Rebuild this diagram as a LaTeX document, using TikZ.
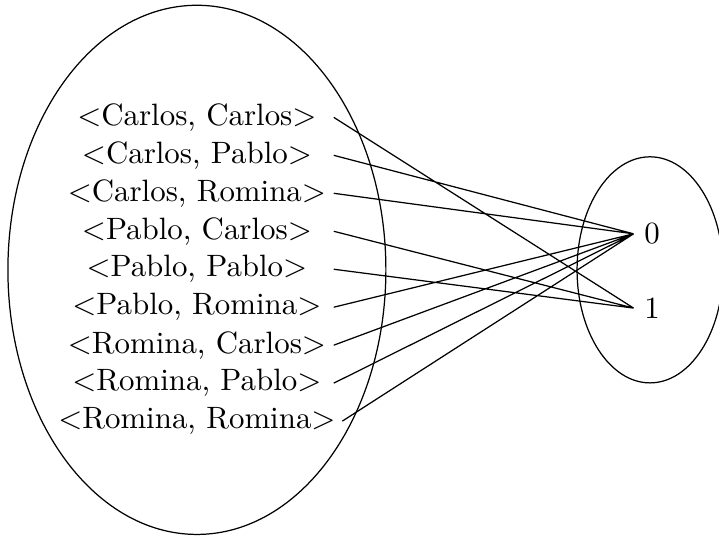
\documentclass[tikz,border=0pt]{standalone}
\usepackage{tikz}
\usetikzlibrary{positioning}
\tikzset{
node distance=0.432cm, % vertical distance between two pairs
pair/.style={minimum width=3.1cm, inner xsep=2pt}, % every pair gets the same width, so the lines start together
}

\begin{document}
\begin{tikzpicture}
        \useasboundingbox (0,0) rectangle (8.18,6.11);

        \draw (2.24,3.04) ellipse (2.15 and 3.01);
        \draw (7.395,3.04) ellipse (0.83 and 1.286);

        \node[pair] (cc) at (2.24,4.775) {<Carlos, Carlos>};
        \node[pair, below of=cc] (cp) {<Carlos, Pablo>};
        \node[pair, below of=cp] (cr) {<Carlos, Romina>};
        \node[pair, below of=cr] (pc) {<Pablo, Carlos>};
        \node[pair, below of=pc] (pp) {<Pablo, Pablo>};
        \node[pair, below of=pp] (pr) {<Pablo, Romina>};
        \node[pair, below of=pr] (rc) {<Romina, Carlos>};
        \node[pair, below of=rc] (rp) {<Romina, Pablo>};
        \node[pair, below of=rp] (rr) {<Romina, Romina>};

        \node (zero) at (7.42,3.45) {0};
        \node (one) at (7.42,2.605) {1};

        \draw (cc.east) -- (one.west)
              (cp.east) -- (zero.west)
              (cr.east) -- (zero.west)
              (pc.east) -- (one.west)
              (pp.east) -- (one.west)
              (pr.east) -- (zero.west)
              (rc.east) -- (zero.west)
              (rp.east) -- (zero.west)
              (rr.east) -- (zero.west)
              ;

    \end{tikzpicture}
\end{document}
